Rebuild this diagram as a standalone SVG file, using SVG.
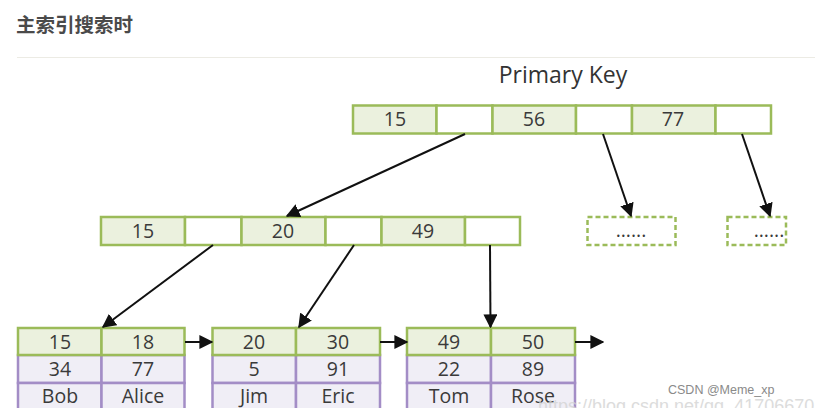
<svg xmlns="http://www.w3.org/2000/svg" width="815" height="408" viewBox="0 0 815 408">
<defs>
<style>
.k{fill:#ebf1de;stroke:#9bbb59;stroke-width:2.5}
.p{fill:#ffffff;stroke:#9bbb59;stroke-width:2.5}
.v{fill:#f0eef6;stroke:#a38dc6;stroke-width:2.5}
.d{fill:#ffffff;stroke:#9bbb59;stroke-width:2.5;stroke-dasharray:5 3}
.t{font-family:"Segoe UI","Open Sans","Noto Sans","Liberation Sans",sans-serif;font-size:19.5px;fill:#3a3a3a;text-anchor:middle}
.c line{stroke:#111;stroke-width:2;marker-end:url(#ah)}
</style>
<marker id="ah" viewBox="0 0 10 10" refX="9" refY="5" markerWidth="7" markerHeight="7" orient="auto" markerUnits="strokeWidth">
<path d="M0,0 L10,5 L0,10 z" fill="#111"/>
</marker>
</defs>
<rect width="815" height="408" fill="#fff"/>
<g id="title">
<text x="16" y="32" font-family="'Noto Sans CJK SC',sans-serif" font-weight="bold" font-size="19.5" fill="#4a4a4a">主索引搜索时</text>
<line x1="17" y1="57.5" x2="815" y2="57.5" stroke="#ecebe4" stroke-width="1"/>
</g>
<g id="label">
<text x="563" y="83" font-family="'Segoe UI','Open Sans','Noto Sans',sans-serif" font-size="23" fill="#333" text-anchor="middle">Primary Key</text>
</g>
<g id="root">
<rect class="k" x="353" y="105.5" width="83.5" height="28"/>
<rect class="p" x="436.5" y="105.5" width="56" height="28"/>
<rect class="k" x="492.5" y="105.5" width="83.5" height="28"/>
<rect class="p" x="576" y="105.5" width="56" height="28"/>
<rect class="k" x="632" y="105.5" width="83.5" height="28"/>
<rect class="p" x="715.5" y="105.5" width="55.5" height="28"/>
<text class="t" x="395" y="126">15</text>
<text class="t" x="534" y="126">56</text>
<text class="t" x="673" y="126">77</text>
</g>
<g id="inner">
<rect class="k" x="101" y="217" width="84" height="28"/>
<rect class="p" x="185" y="217" width="56.5" height="28"/>
<rect class="k" x="241.5" y="217" width="84" height="28"/>
<rect class="p" x="325.5" y="217" width="56" height="28"/>
<rect class="k" x="381.5" y="217" width="83.5" height="28"/>
<rect class="p" x="465" y="217" width="55" height="28"/>
<text class="t" x="143" y="237.5">15</text>
<text class="t" x="283" y="237.5">20</text>
<text class="t" x="423" y="237.5">49</text>
</g>
<g id="more1">
<rect class="d" x="587.5" y="217" width="88" height="28"/>
<text class="t" x="631" y="237" font-size="14">......</text>
</g>
<g id="more2">
<rect class="d" x="727.5" y="217" width="58.5" height="28"/>
<text class="t" x="769" y="237" font-size="14">......</text>
</g>
<g id="leaf1">
<rect class="v" x="18" y="355" width="83.5" height="28"/>
<rect class="v" x="101.5" y="355" width="83" height="28"/>
<rect class="v" x="18" y="383" width="83.5" height="28"/>
<rect class="v" x="101.5" y="383" width="83" height="28"/>
<rect class="k" x="18" y="328" width="83.5" height="27"/>
<rect class="k" x="101.5" y="328" width="83" height="27"/>
<text class="t" x="60" y="348.5">15</text>
<text class="t" x="143" y="348.5">18</text>
<text class="t" x="60" y="376">34</text>
<text class="t" x="143" y="376">77</text>
<text class="t" x="60" y="403">Bob</text>
<text class="t" x="143" y="403">Alice</text>
</g>
<g id="leaf2">
<rect class="v" x="212.5" y="355" width="83.5" height="28"/>
<rect class="v" x="296" y="355" width="84" height="28"/>
<rect class="v" x="212.5" y="383" width="83.5" height="28"/>
<rect class="v" x="296" y="383" width="84" height="28"/>
<rect class="k" x="212.5" y="328" width="83.5" height="27"/>
<rect class="k" x="296" y="328" width="84" height="27"/>
<text class="t" x="254" y="348.5">20</text>
<text class="t" x="338" y="348.5">30</text>
<text class="t" x="254" y="376">5</text>
<text class="t" x="338" y="376">91</text>
<text class="t" x="254" y="403">Jim</text>
<text class="t" x="338" y="403">Eric</text>
</g>
<g id="leaf3">
<rect class="v" x="407" y="355" width="84" height="28"/>
<rect class="v" x="491" y="355" width="84" height="28"/>
<rect class="v" x="407" y="383" width="84" height="28"/>
<rect class="v" x="491" y="383" width="84" height="28"/>
<rect class="k" x="407" y="328" width="84" height="27"/>
<rect class="k" x="491" y="328" width="84" height="27"/>
<text class="t" x="449" y="348.5">49</text>
<text class="t" x="533" y="348.5">50</text>
<text class="t" x="449" y="376">22</text>
<text class="t" x="533" y="376">89</text>
<text class="t" x="449" y="403">Tom</text>
<text class="t" x="533" y="403">Rose</text>
</g>
<g id="connectors" class="c">
<line x1="465" y1="134" x2="287" y2="216"/>
<line x1="603" y1="134" x2="631" y2="216"/>
<line x1="742" y1="134" x2="770" y2="216"/>
<line x1="213" y1="245" x2="103" y2="327"/>
<line x1="354" y1="245" x2="299" y2="327"/>
<line x1="490" y1="245" x2="490.5" y2="327"/>
<line x1="185" y1="342" x2="212" y2="342"/>
<line x1="380" y1="342" x2="407" y2="342"/>
<line x1="575" y1="342" x2="603" y2="342"/>
</g>
<g id="watermark">
<text x="538" y="412" font-family="'Liberation Sans',sans-serif" font-size="18" fill="#d4d4d4" opacity="0.8">https://blog.csdn.net/qq_41706670</text>
<text x="668" y="394" font-family="'Liberation Sans',sans-serif" font-size="12.5" fill="#8a8a8a">CSDN @Meme_xp</text>
</g>
</svg>
